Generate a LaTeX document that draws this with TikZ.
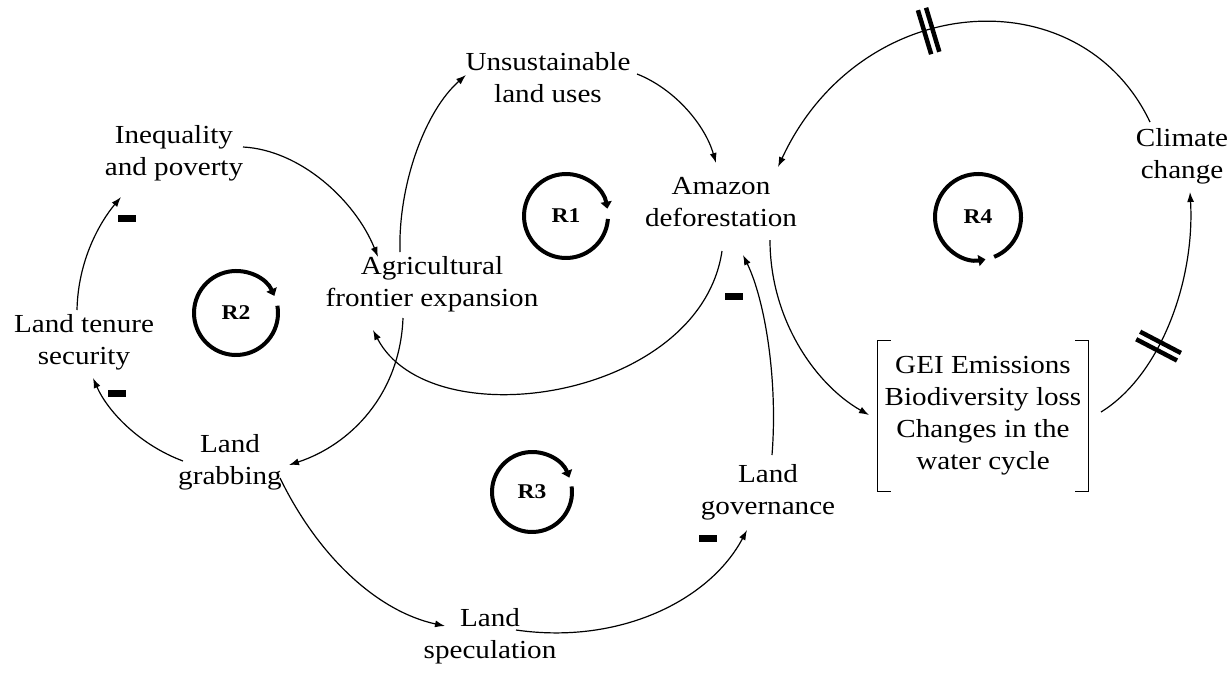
\documentclass[tikz,border=0pt]{standalone}
\usepackage{fontspec}
\setmainfont{Liberation Serif}[FakeStretch=1.12]
\usetikzlibrary{arrows.meta}
\begin{document}
\begin{tikzpicture}[x=1pt,y=-1pt,
  lbl/.style={align=center,inner sep=0pt,font=\fontsize{26}{32}\selectfont},
  conn/.style={line width=1.2pt,-{Latex[length=10pt,width=7pt]}},
  loopsym/.style={line width=4pt,-{Triangle[length=7pt,width=11pt]}},
  rlbl/.style={inner sep=0pt,font=\fontsize{21}{24}\selectfont\bfseries},
  minus/.style={fill=black,minimum width=18pt,minimum height=7pt,inner sep=0pt},
  hashmark/.style={inner sep=0pt,sloped},
  bracket/.style={line width=1pt}]
\useasboundingbox (0,0) rectangle (1228,694);

% variables
\node[lbl] (ulu)  at (548,78)  {Unsustainable\\land uses};
\node[lbl] (ip)   at (174,153) {Inequality\\and poverty};
\node[lbl] (afe)  at (432,284) {Agricultural\\frontier expansion};
\node[lbl] (ad)   at (721,202) {Amazon\\deforestation};
\node[lbl] (cc)   at (1182,156) {Climate\\change};
\node[lbl] (lts)  at (84,342)  {Land tenure\\security};
\node[lbl] (lg)   at (230,462) {Land\\grabbing};
\node[lbl] (lgov) at (768,492) {Land\\governance};
\node[lbl] (ls)   at (490,636) {Land\\speculation};
\node[lbl,minimum width=210pt,minimum height=150pt] (gei) at (983,416)
  {GEI Emissions\\Biodiversity loss\\Changes in the\\water cycle};
\draw[bracket] ([xshift=13pt]gei.north west) -- (gei.north west) -- (gei.south west) -- ([xshift=13pt]gei.south west);
\draw[bracket] ([xshift=-13pt]gei.north east) -- (gei.north east) -- (gei.south east) -- ([xshift=-13pt]gei.south east);

% loop symbols
\node[rlbl] (r1) at (566,216) {R1};
\node[rlbl] (r2) at (236,313) {R2};
\node[rlbl] (r3) at (532,492) {R3};
\node[rlbl] (r4) at (978,217) {R4};
\draw[loopsym] ([shift={(4:42)}]r1.center) arc[start angle=4,end angle=350,radius=42];
\draw[loopsym] ([shift={(-10:42)}]r2.center) arc[start angle=-10,end angle=336,radius=42];
\draw[loopsym] ([shift={(-8:40)}]r3.center) arc[start angle=-8,end angle=339,radius=40];
\draw[loopsym] ([shift={(68:43)}]r4.center) arc[start angle=68,end angle=-280,radius=43];

% connectors
\draw[conn] ([shift={(-32,-32)}]afe.center) .. controls +(-2,-67) and +(-41,36) .. ([shift={(-82,-3)}]ulu.center);
\draw[conn] ([shift={(89,-4)}]ulu.center) .. controls +(38,15) and +(-11,-38) .. ([shift={(-5,-39)}]ad.center);
\draw[conn] ([shift={(-32,-34)}]cc.center) .. controls +(-70,-147) and +(82,-177) .. ([shift={(57,-35)}]ad.center)
   node[hashmark,pos=0.59] {\rule{4.5pt}{46pt}\hspace{4pt}\rule{4.5pt}{46pt}};
\draw[conn] ([shift={(49,38)}]ad.center) .. controls +(0,80) and +(-53,-30) .. ([shift={(-114,-1)}]gei.center);
\draw[conn] ([shift={(118,-4)}]gei.center) .. controls +(60,-37) and +(5,88) .. ([shift={(8,36)}]cc.center)
   node[hashmark,pos=0.39] {\rule{4.5pt}{46pt}\hspace{4pt}\rule{4.5pt}{46pt}};
\draw[conn] ([shift={(1,49)}]ad.center) .. controls +(-22,149) and +(57,110) .. ([shift={(-59,46)}]afe.center);
\draw[conn] ([shift={(-29,34)}]afe.center) .. controls +(-3,77) and +(61,-20) .. ([shift={(59,3)}]lg.center);
\draw[conn] ([shift={(-47,-1)}]lg.center) .. controls +(-43,-16) and +(15,34) .. ([shift={(9,36)}]lts.center);
\draw[conn] ([shift={(-7,-32)}]lts.center) .. controls +(1,-50) and +(-21,25) .. ([shift={(-53,44)}]ip.center);
\draw[conn] ([shift={(69,-6)}]ip.center) .. controls +(57,3) and +(-23,-57) .. ([shift={(-54,-27)}]afe.center);
\draw[conn] ([shift={(50,16)}]lg.center) .. controls +(40,82) and +(-65,-14) .. ([shift={(-45,-10)}]ls.center);
\draw[conn] ([shift={(26,-6)}]ls.center) .. controls +(104,15) and +(-37,70) .. ([shift={(-21,38)}]lgov.center);
\draw[conn] ([shift={(4,-37)}]lgov.center) .. controls +(6,-75) and +(22,45) .. ([shift={(22,53)}]ad.center);

% polarity signs
\node[minus] (m1) at (127,218) {};
\node[minus] (m2) at (117,393) {};
\node[minus] (m3) at (734,296) {};
\node[minus] (m4) at (708,538) {};
\end{tikzpicture}
\end{document}
